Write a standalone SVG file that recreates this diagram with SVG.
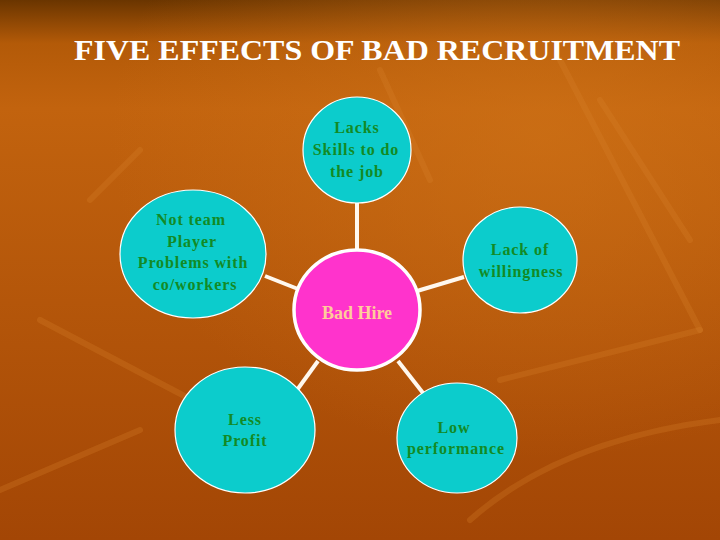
<svg xmlns="http://www.w3.org/2000/svg" width="720" height="540" viewBox="0 0 720 540">
<defs>
<linearGradient id="bg" x1="0" y1="0" x2="0" y2="1">
<stop offset="0" stop-color="#6a3500"/>
<stop offset="0.08" stop-color="#b35a08"/>
<stop offset="0.2" stop-color="#c2630e"/>
<stop offset="1" stop-color="#a34605"/>
</linearGradient>
<radialGradient id="glow" cx="0.75" cy="0.25" r="0.6">
<stop offset="0" stop-color="#d07418" stop-opacity="0.6"/>
<stop offset="1" stop-color="#d07418" stop-opacity="0"/>
</radialGradient>
<style>
.node{fill:#0ccccc;stroke:#ffffff;stroke-width:1.2}
.hub{fill:#ff33cc;stroke:#ffffff;stroke-width:3.5}
.lbl{font-family:"Liberation Serif","Times New Roman",serif;font-weight:bold;font-size:16px;letter-spacing:0.9px;fill:#138a25;text-anchor:middle}
.hublbl{font-family:"Liberation Serif","Times New Roman",serif;font-weight:bold;font-size:18px;fill:#ffcc99;text-anchor:middle}
.conn line{stroke:#fff8ee;stroke-width:4}
.deco{fill:none;stroke:#d9822a;stroke-opacity:0.28;stroke-width:6;stroke-linecap:round}
</style>
</defs>
<rect width="720" height="540" fill="url(#bg)"/>
<rect width="720" height="540" fill="url(#glow)"/>
<g id="decor">
<path class="deco" d="M560 60 L700 330"/>
<path class="deco" d="M600 100 L690 240"/>
<path class="deco" d="M40 320 L230 420"/>
<path class="deco" d="M0 490 L140 430"/>
<path class="deco" d="M470 520 Q560 440 720 420"/>
<path class="deco" d="M380 70 L430 180"/>
<path class="deco" d="M500 380 L700 330"/>
<path class="deco" d="M90 200 L140 150"/>
</g>
<text x="377" y="60" font-family="Liberation Serif,'Times New Roman',serif" font-weight="bold" font-size="30" fill="#ffffff" text-anchor="middle" textLength="606" lengthAdjust="spacingAndGlyphs">FIVE EFFECTS OF BAD RECRUITMENT</text>
<g class="conn" id="connectors">
<line x1="357" y1="203" x2="357" y2="250"/>
<line x1="265" y1="276" x2="298" y2="289"/>
<line x1="464" y1="277" x2="417" y2="291"/>
<line x1="318" y1="361" x2="297" y2="390"/>
<line x1="398" y1="361" x2="423" y2="393"/>
</g>
<g id="hub">
<ellipse class="hub" cx="357" cy="310" rx="63" ry="60"/>
<text class="hublbl" x="357" y="319">Bad Hire</text>
</g>
<g id="skills">
<ellipse class="node" cx="357" cy="150" rx="54" ry="53"/>
<text class="lbl" x="357" y="133">Lacks</text>
<text class="lbl" x="356" y="155">Skills to do</text>
<text class="lbl" x="357" y="177">the job</text>
</g>
<g id="team">
<ellipse class="node" cx="193" cy="254" rx="73" ry="64"/>
<text class="lbl" x="191" y="225">Not team</text>
<text class="lbl" x="192" y="247">Player</text>
<text class="lbl" x="193" y="268">Problems with</text>
<text class="lbl" x="195" y="290">co/workers</text>
</g>
<g id="willingness">
<ellipse class="node" cx="520" cy="260" rx="57" ry="53"/>
<text class="lbl" x="520" y="255">Lack of</text>
<text class="lbl" x="521" y="277">willingness</text>
</g>
<g id="profit">
<ellipse class="node" cx="245" cy="430" rx="70" ry="63"/>
<text class="lbl" x="245" y="425">Less</text>
<text class="lbl" x="245" y="446">Profit</text>
</g>
<g id="performance">
<ellipse class="node" cx="457" cy="438" rx="60" ry="55"/>
<text class="lbl" x="454" y="433">Low</text>
<text class="lbl" x="456" y="454">performance</text>
</g>
</svg>
